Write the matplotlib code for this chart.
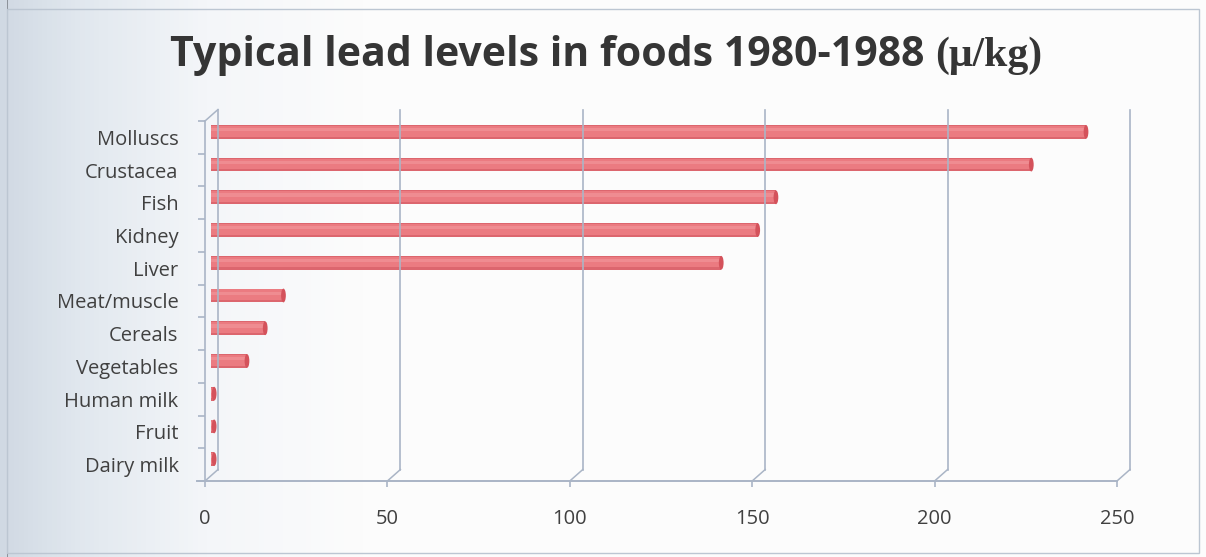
import numpy as np
import matplotlib
matplotlib.use("Agg")
import matplotlib.pyplot as plt
import matplotlib.transforms as mtransforms
from matplotlib.patches import Ellipse, Rectangle
from matplotlib.colors import LinearSegmentedColormap

# lead levels (µg/kg), top to bottom
foods = ["Molluscs", "Crustacea", "Fish", "Kidney", "Liver", "Meat/muscle",
         "Cereals", "Vegetables", "Human milk", "Fruit", "Dairy milk"]
lead_levels = [240, 225, 155, 150, 140, 20, 15, 10, 1, 1, 1]
x_ticks = [0, 50, 100, 150, 200, 250]

title_main = "Typical lead levels in foods 1980-1988 "
title_unit = "(\u03bc/kg)"

W, H, DPI = 1206, 557, 100
fig = plt.figure(figsize=(W / DPI, H / DPI), dpi=DPI, facecolor="#fcfcfc")

# scanned-page look: bluish shade on the left edge and a thin frame
bg = fig.add_axes([0, 0, 1, 1], zorder=-10)
bg.set_axis_off()
grad = np.linspace(0, 1, 256)[None, :]
cmap = LinearSegmentedColormap.from_list(
    "edge", [(0, "#d0d9e3"), (0.06, "#e0e7ee"), (0.17, "#f4f6f9"), (0.3, "#fcfcfc"), (1, "#fcfcfc")])
bg.imshow(grad, aspect="auto", cmap=cmap, extent=[0, 1, 0, 1])
bg.set_xlim(0, 1)
bg.set_ylim(0, 1)
fig.add_artist(Rectangle((7 / W, 0), 1.5 / W, 1, transform=fig.transFigure,
                         color="#8d939b", lw=0))
fig.add_artist(Rectangle((7 / W, 4 / H), (1199 - 7) / W, (548 - 4) / H,
                         transform=fig.transFigure, fill=False,
                         edgecolor="#bcc6d2", lw=1))

ax = fig.add_axes([205 / W, 1 - 481 / H, (1117 - 205) / W, (481 - 121) / H])
ax.set_facecolor("none")
n = len(foods)
ax.set_xlim(0, 250)
ax.set_ylim(n - 0.5, -0.5)
for s in ax.spines.values():
    s.set_visible(False)

grid_c = "#aab5c6"
back = ax.transData + mtransforms.ScaledTranslation(0.13, 0.115, fig.dpi_scale_trans)
mid = ax.transData + mtransforms.ScaledTranslation(0.055, 0.055, fig.dpi_scale_trans)
bot, top = n - 0.5, -0.5
inv = ax.transData.inverted()

# back wall gridlines and their floor diagonals
for v in x_ticks:
    ax.plot([v, v], [top, bot], color=grid_c, lw=1.2, transform=back, clip_on=False)
    (x0, y0), (x1, y1) = inv.transform([ax.transData.transform((v, bot)),
                                         back.transform((v, bot))])
    ax.plot([x0, x1], [y0, y1], color=grid_c, lw=1.1, clip_on=False)

# left side wall: front edge plus the top diagonal
ax.plot([0, 0], [top, bot], color=grid_c, lw=1.2, clip_on=False)
(tx0, ty0), (tx1, ty1) = inv.transform([ax.transData.transform((0, top)),
                                         back.transform((0, top))])
ax.plot([tx0, tx1], [ty0, ty1], color=grid_c, lw=1.1, clip_on=False)

# front floor edge
ax.plot([-2.2, 250], [bot, bot], color=grid_c, lw=1.4, clip_on=False)

# cylinder bars
bar_h = 0.42
cap_w = 1.3
ax.barh(range(n), lead_levels, height=bar_h, color="#dc666e", lw=0, transform=mid)
ax.barh(np.arange(n) - 0.02, lead_levels, height=bar_h * 0.78, color="#eb7b81", lw=0,
        transform=mid)
ax.barh(np.arange(n) - 0.07, lead_levels, height=bar_h * 0.24, color="#ef8c91", lw=0,
        transform=mid)
for i, v in enumerate(lead_levels):
    ax.add_patch(Ellipse((v, i), cap_w, bar_h, facecolor="#d4525b", edgecolor="none",
                         transform=mid, clip_on=False))

# ticks and labels
txt_c = "#404040"
ax.set_xticks(x_ticks)
ax.set_xticklabels([str(t) for t in x_ticks])
ax.tick_params(axis="x", length=4.5, width=1.2, color=grid_c, pad=16,
               labelsize=14.5, labelcolor=txt_c)
ax.set_yticks(range(n))
ax.set_yticklabels(foods)
ax.tick_params(axis="y", which="major", length=0, pad=19, labelsize=14.5, labelcolor=txt_c)
ax.set_yticks(np.arange(-0.5, n), minor=True)
ax.tick_params(axis="y", which="minor", length=5, width=1.2, color=grid_c)
for lab in ax.get_xticklabels() + ax.get_yticklabels():
    lab.set_fontfamily("Open Sans")

# two-part title: sans for the words, serif for the unit
t1 = fig.text(170 / W, 1 - 66 / H, title_main, fontsize=29.5, fontweight="bold",
              family="Open Sans", color="#353535", ha="left", va="baseline")
fig.canvas.draw()
x_end = t1.get_window_extent().x1 / W
fig.text(x_end, 1 - 66 / H, title_unit, fontsize=30, fontweight="bold",
         family="Liberation Serif", color="#353535", ha="left", va="baseline")

fig.savefig("out.png", dpi=DPI, facecolor=fig.get_facecolor())
